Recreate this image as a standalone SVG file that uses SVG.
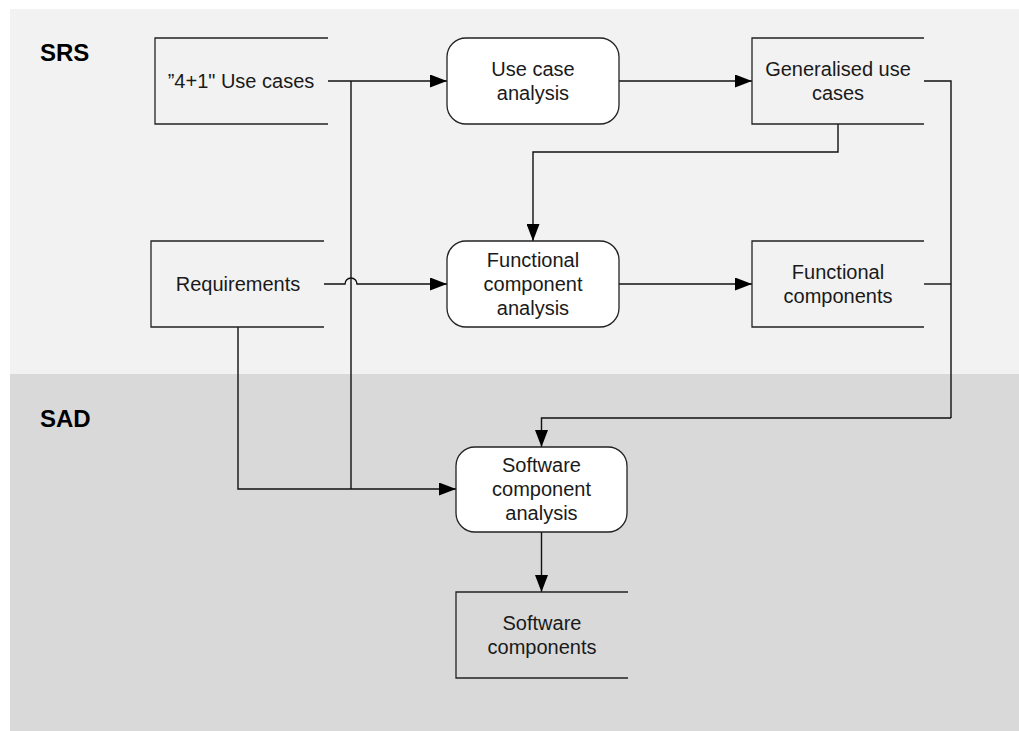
<svg xmlns="http://www.w3.org/2000/svg" width="1019" height="731" viewBox="0 0 1019 731">
<defs>
<marker id="arr" markerWidth="17" markerHeight="13" refX="17" refY="6.5" orient="auto" markerUnits="userSpaceOnUse">
<path d="M0,0 L17,6.5 L0,13 Z" fill="#000"/>
</marker>
<style>
.t{font-family:"Liberation Sans",Arial,sans-serif;font-size:20px;fill:#1a1a1a;text-anchor:middle}
.h{font-family:"Liberation Sans",Arial,sans-serif;font-size:24px;font-weight:bold;fill:#000}
.store{fill:none;stroke:#222;stroke-width:1.3}
.proc{fill:#fff;stroke:#222;stroke-width:1.3}
.c{fill:none;stroke:#111;stroke-width:1.4}
.ca{fill:none;stroke:#111;stroke-width:1.4;marker-end:url(#arr)}
</style>
</defs>
<rect x="0" y="0" width="1019" height="731" fill="#fff"/>
<g id="bg">
<rect x="10" y="9" width="1009" height="365" fill="#f2f2f2"/>
<rect x="10" y="374" width="1009" height="357" fill="#d9d9d9"/>
<text class="h" x="40" y="61">SRS</text>
<text class="h" x="40" y="427">SAD</text>
</g>
<g id="connectors">
<path class="ca" d="M328,81 H447"/>
<path class="c" d="M351,81 V489"/>
<path class="ca" d="M619,81 H752"/>
<path class="ca" d="M838,124 V152 H533 V241"/>
<path class="ca" d="M324,284 H345 A6,6 0 0 1 357,284 H447"/>
<path class="ca" d="M619,284 H752"/>
<path class="c" d="M924,81 H951 V418"/>
<path class="c" d="M924,284 H951"/>
<path class="ca" d="M951,418 H541.5 V447"/>
<path class="ca" d="M238,327 V489 H456"/>
<path class="ca" d="M541.5,532 V592"/>
</g>
<g id="usecases41">
<path class="store" d="M328,38 H155 V124 H328"/>
<text class="t" x="241" y="88">”4+1" Use cases</text>
</g>
<g id="usecaseanalysis">
<rect class="proc" x="447" y="38" width="172" height="86" rx="19"/>
<text class="t" x="533" y="76">Use case</text>
<text class="t" x="533" y="100">analysis</text>
</g>
<g id="generalised">
<path class="store" d="M924,38 H752 V124 H924"/>
<text class="t" x="838" y="76">Generalised use</text>
<text class="t" x="838" y="100">cases</text>
</g>
<g id="requirements">
<path class="store" d="M324,241 H151 V327 H324"/>
<text class="t" x="238" y="291">Requirements</text>
</g>
<g id="functionalanalysis">
<rect class="proc" x="447" y="241" width="172" height="86" rx="19"/>
<text class="t" x="533" y="267">Functional</text>
<text class="t" x="533" y="291">component</text>
<text class="t" x="533" y="315">analysis</text>
</g>
<g id="functionalcomponents">
<path class="store" d="M924,241 H752 V327 H924"/>
<text class="t" x="838" y="279">Functional</text>
<text class="t" x="838" y="303">components</text>
</g>
<g id="softwareanalysis">
<rect class="proc" x="456" y="447" width="171" height="85" rx="19"/>
<text class="t" x="541.5" y="472">Software</text>
<text class="t" x="541.5" y="496">component</text>
<text class="t" x="541.5" y="520">analysis</text>
</g>
<g id="softwarecomponents">
<path class="store" d="M628,592 H456 V678 H628"/>
<text class="t" x="542" y="630">Software</text>
<text class="t" x="542" y="654">components</text>
</g>
</svg>
